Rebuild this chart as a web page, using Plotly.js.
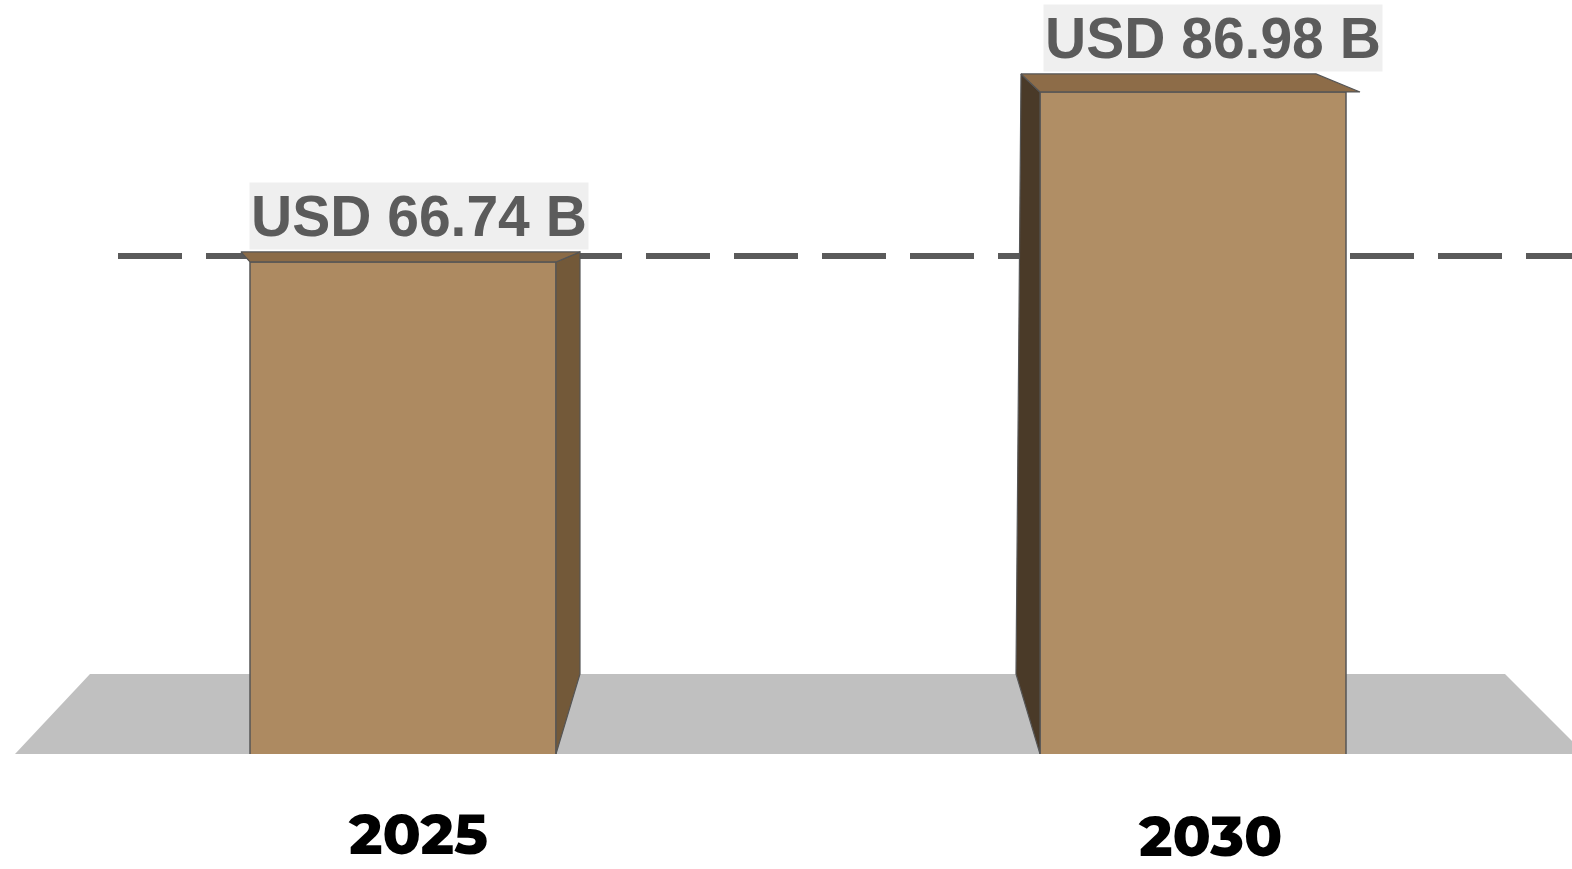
<!DOCTYPE html>
<html>
<head>
<meta charset="utf-8">
<script src="https://cdn.plot.ly/plotly-3.0.1.min.js"></script>
<style>html,body{margin:0;padding:0;background:#fff;}#chart{width:1572px;height:869px;}</style>
</head>
<body>
<div id="chart"></div>
<script>
// ---- data ----
const categories = ['2025', '2030'];
const values = [66.74, 86.98];
const valueLabels = ['USD 66.74 B', 'USD 86.98 B'];

// ---- layout constants (pixels) ----
const W = 1572, H = 869, B = 115;          // figure size, bottom margin
const plotH = H - B;                        // plot area height (754)
const xPxPerUnit = 790, x0Px = 403;         // x scale
const yPxPerUnit = 8.399;
const yTop = 97.93;                         // value at top of plot area
const yBottom = yTop - plotH / yPxPerUnit;  // value at floor front edge
const barW = 306 / xPxPerUnit;
const dx = px => px / xPxPerUnit;
const dy = px => px / yPxPerUnit;
const floorTopVal = yTop - 674 / yPxPerUnit;

const frontColors = ['#ad8a61', '#b08e65'];
const sideColors = ['#735939', '#4a3a28'];
const topColors = ['#8b6b47', '#8d6c48'];
const edge = '#555555';

const traces = [];
// front faces as a bar trace
traces.push({
  type: 'bar',
  x: categories.map((c, i) => i),
  y: values,
  width: barW,
  marker: {color: frontColors, line: {color: edge, width: 1.5}},
  hoverinfo: 'skip'
});

// side + top faces (3D effect), derived from values
values.forEach((v, i) => {
  const xl = i - barW / 2, xr = i + barW / 2;
  let side, top;
  if (i === 0) {
    side = {x: [xr, xr + dx(24), xr + dx(24), xr, xr],
            y: [v, v + dy(10), floorTopVal, yBottom, v]};
    top = {x: [xl, xl - dx(9), xr + dx(24), xr, xl],
           y: [v, v + dy(10), v + dy(10), v, v]};
  } else {
    side = {x: [xl, xl - dx(19), xl - dx(24), xl, xl],
            y: [v, v + dy(18), floorTopVal, yBottom, v]};
    top = {x: [xl, xl - dx(19), xr - dx(30), xr + dx(14), xl],
           y: [v, v + dy(18), v + dy(18), v, v]};
  }
  traces.push({type: 'scatter', mode: 'lines', fill: 'toself', x: side.x, y: side.y,
    fillcolor: sideColors[i], line: {color: edge, width: 1.2}, hoverinfo: 'skip'});
  traces.push({type: 'scatter', mode: 'lines', fill: 'toself', x: top.x, y: top.y,
    fillcolor: topColors[i], line: {color: edge, width: 1.2}, hoverinfo: 'skip'});
});

const fy = 80 / plotH; // floor depth in paper units
const shapes = [
  {type: 'path', xref: 'paper', yref: 'paper', layer: 'below',
   path: `M ${15 / W} 0 L ${90 / W} ${fy} L ${1505 / W} ${fy} L ${1585 / W} 0 Z`,
   fillcolor: '#c0c0c0', line: {width: 0}},
  {type: 'line', xref: 'paper', yref: 'y', layer: 'below',
   x0: 118 / W, x1: 1, ysizemode: 'pixel', yanchor: values[0], y0: 6, y1: 6,
   line: {color: '#5a5a5a', width: 6, dash: '64px,24px'}}
];

const annotations = [];
const labelShiftX = [16, 20], labelShiftY = [12, 20];
valueLabels.forEach((t, i) => {
  annotations.push({x: i, y: values[i], xref: 'x', yref: 'y', text: t, showarrow: false,
    xanchor: 'center', yanchor: 'bottom', xshift: labelShiftX[i], yshift: labelShiftY[i],
    bgcolor: '#efefef', borderpad: 1,
    font: {family: '"Liberation Sans", Arial, sans-serif', size: 57, weight: 'bold', color: '#5b5b5b'}});
});
const catShiftX = [15, 17], catShiftY = [0, -2];
categories.forEach((c, i) => {
  annotations.push({x: i, y: -(834 - plotH) / plotH, xref: 'x', yref: 'paper', text: c, showarrow: false,
    xanchor: 'center', yanchor: 'middle', xshift: catShiftX[i], yshift: catShiftY[i],
    font: {family: 'Montserrat, "Open Sans", sans-serif', size: 56, weight: 800, color: '#000000'}});
});

const layout = {
  width: W, height: H,
  margin: {l: 0, r: 0, t: 0, b: B, pad: 0},
  paper_bgcolor: '#ffffff', plot_bgcolor: 'rgba(0,0,0,0)',
  showlegend: false,
  xaxis: {range: [-x0Px / xPxPerUnit, (W - x0Px) / xPxPerUnit], visible: false, fixedrange: true},
  yaxis: {range: [yBottom, yTop], visible: false, fixedrange: true},
  shapes: shapes,
  annotations: annotations,
  bargap: 0
};

Plotly.newPlot('chart', traces, layout, {displayModeBar: false, staticPlot: true});
</script>
</body>
</html>
